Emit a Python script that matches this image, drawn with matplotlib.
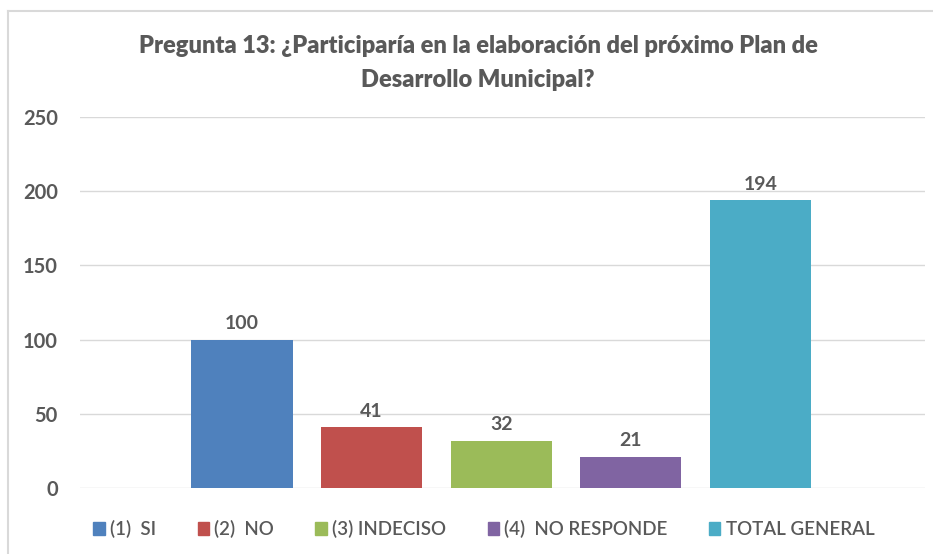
import matplotlib.pyplot as plt
import matplotlib.patches as mpatches

# Data
categories = ["(1)  SI", "(2)  NO", "(3) INDECISO", "(4)  NO RESPONDE", "TOTAL GENERAL"]
values = [100, 41, 32, 21, 194]
colors = ["#4F81BD", "#C0504D", "#9BBB59", "#8064A2", "#4BACC6"]
yticks = [0, 50, 100, 150, 200, 250]

plt.rcParams['font.family'] = ['Lato', 'DejaVu Sans']
txt = "#595959"

fig = plt.figure(figsize=(9.33, 5.54), dpi=100)
ax = fig.add_axes([80 / 933, 1 - 488 / 554, 845 / 933, 371 / 554])

x = list(range(len(values)))
ax.bar(x, values, width=0.78, color=colors, zorder=3)
for xi, v in zip(x, values):
    ax.text(xi, v + 5, str(v), ha='center', va='bottom', fontsize=14,
            fontweight='bold', color=txt)

ax.set_xlim(-1.25, 5.27)
ax.set_ylim(0, 250)
ax.set_yticks(yticks)
ax.set_yticklabels([str(t) for t in yticks], fontsize=14.5, fontweight='bold', color=txt)
ax.set_xticks([])
ax.tick_params(axis='y', length=0, pad=16)
ax.grid(axis='y', color='#D9D9D9', linewidth=1, zorder=0)
for s in ax.spines.values():
    s.set_visible(False)

fig.text(478 / 933, 1 - 46 / 554, "Pregunta 13: ¿Participaría en la elaboración del próximo Plan de",
         ha='center', va='center', fontsize=17, fontweight='heavy', color=txt)
fig.text(478 / 933, 1 - 80 / 554, "Desarrollo Municipal?",
         ha='center', va='center', fontsize=17, fontweight='heavy', color=txt)

# outer chart border (partly cropped in the reference)
fig.add_artist(plt.Line2D([8 / 933, 8 / 933], [0, 1 - 11 / 554], color='#D9D9D9', lw=1.5,
                          transform=fig.transFigure))
fig.add_artist(plt.Line2D([8 / 933, 1], [1 - 11 / 554, 1 - 11 / 554], color='#D9D9D9', lw=1.5,
                          transform=fig.transFigure))

handles = [mpatches.Patch(color=c, label=l) for c, l in zip(colors, categories)]
fig.legend(handles=handles, loc='center', bbox_to_anchor=(484 / 933, 1 - 529 / 554),
           ncol=5, frameon=False, fontsize=13.5, labelcolor=txt,
           prop={'size': 13.5, 'weight': 'semibold'},
           handlelength=0.6, handleheight=0.7, handletextpad=0.3, columnspacing=2.2)

fig.savefig("out.png", dpi=100)
